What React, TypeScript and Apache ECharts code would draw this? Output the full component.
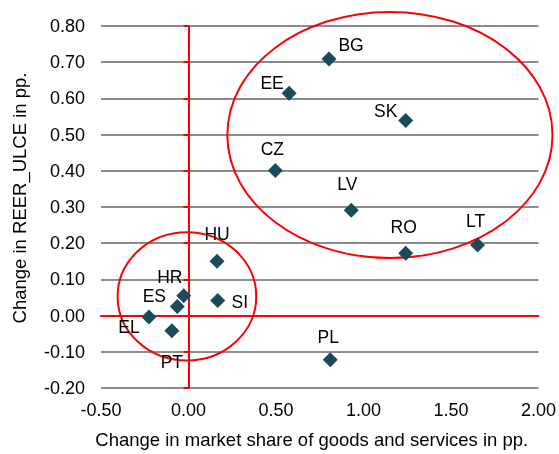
import React, { useEffect, useRef } from "react";
import * as echarts from "echarts";

const countries = ["BG", "EE", "SK", "CZ", "LV", "RO", "LT", "PL", "HU", "SI", "HR", "ES", "EL", "PT"];
const marketShare = [0.803, 0.575, 1.241, 0.496, 0.93, 1.241, 1.652, 0.81, 0.163, 0.167, -0.027, -0.064, -0.226, -0.095];
const reerUlce = [0.709, 0.614, 0.539, 0.401, 0.291, 0.172, 0.195, -0.122, 0.15, 0.042, 0.055, 0.025, -0.004, -0.042];

// Ellipses: [centreX, centreY, radiusX, radiusY] in data units
const ellipses = [
  [1.151, 0.499, 0.929, 0.34],
  [-0.009, 0.053, 0.396, 0.177],
];

const xTicks = { min: -0.5, max: 2.0, interval: 0.5 };
const yTicks = { min: -0.2, max: 0.8, interval: 0.1 };

// label offsets (pixels) relative to each marker
const labelOffsets: Record<string, [number, number]> = {
  BG: [22, -14],
  EE: [-17, -10],
  SK: [-20, -9],
  CZ: [-3, -21],
  LV: [-4, -26],
  RO: [-2, -26],
  LT: [-2, -24],
  PL: [-2, -23],
  HU: [0, -27],
  SI: [22, 2],
  HR: [-14, -19],
  ES: [-23, -11],
  EL: [-20, 10],
  PT: [0, 31],
};

const FONT = "'Liberation Sans', Arial, sans-serif";

export default function App() {
  const ref = useRef<HTMLDivElement>(null);
  useEffect(() => {
    document.body.style.margin = "0";
    document.body.style.overflow = "hidden";
    if (!ref.current) return;
    const chart = echarts.init(ref.current, null, { renderer: "svg" });
    const points = countries.map((c, i) => ({
      name: c,
      value: [marketShare[i], reerUlce[i]],
      label: {
        show: true,
        formatter: c,
        position: "inside",
        offset: labelOffsets[c],
        color: "#000",
        fontSize: 17.5,
        fontFamily: FONT,
      },
    }));
    chart.setOption({
      animation: false,
      textStyle: { fontFamily: FONT },
      grid: { left: 101, right: 20, top: 26, bottom: 63 },
      xAxis: [
        {
          type: "value",
          min: xTicks.min,
          max: xTicks.max,
          interval: xTicks.interval,
          position: "bottom",
          axisLine: { show: false, onZero: false },
          axisTick: { show: false },
          splitLine: { show: false },
          axisLabel: {
            formatter: (v: number) => v.toFixed(2),
            fontSize: 18,
            color: "#000",
            margin: 13,
            fontFamily: FONT,
          },
          name: "Change in market share of goods and services in pp.",
          nameLocation: "middle",
          nameGap: 42,
          nameTextStyle: { fontSize: 18.5, color: "#000", fontFamily: FONT, padding: [0, 16, 0, 0] },
        },
        {
          type: "value",
          min: xTicks.min,
          max: xTicks.max,
          interval: xTicks.interval,
          position: "bottom",
          axisLine: { show: true, onZero: true, lineStyle: { color: "#ff0000", width: 2 } },
          axisTick: { show: false },
          splitLine: { show: false },
          axisLabel: { show: false },
        },
      ],
      yAxis: [
        {
          type: "value",
          min: yTicks.min,
          max: yTicks.max,
          interval: yTicks.interval,
          position: "left",
          axisLine: { show: false, onZero: false },
          axisTick: { show: false },
          splitLine: { show: true, lineStyle: { color: "#8c8c8c", width: 2 } },
          axisLabel: {
            formatter: (v: number) => v.toFixed(2),
            fontSize: 18,
            color: "#000",
            margin: 16,
            fontFamily: FONT,
          },
          name: "Change in REER_ULCE in pp.",
          nameLocation: "middle",
          nameRotate: 90,
          nameGap: 72,
          nameTextStyle: { fontSize: 18.5, color: "#000", fontFamily: FONT, padding: [0, 0, 0, 18] },
        },
        {
          type: "value",
          min: yTicks.min,
          max: yTicks.max,
          interval: yTicks.interval,
          position: "left",
          axisLine: { show: true, onZero: true, lineStyle: { color: "#ff0000", width: 2 } },
          axisTick: { show: true, length: 5, lineStyle: { color: "#ff0000", width: 2 } },
          splitLine: { show: false },
          axisLabel: { show: false },
        },
      ],
      series: [
        {
          type: "custom",
          xAxisIndex: 0,
          yAxisIndex: 0,
          clip: false,
          silent: true,
          z: 1,
          data: ellipses,
          encode: { x: 0, y: 1 },
          renderItem: (params: any, api: any) => {
            const c = api.coord([api.value(0), api.value(1)]);
            const s = api.size([api.value(2), api.value(3)]);
            return {
              type: "ellipse",
              shape: { cx: c[0], cy: c[1], rx: s[0], ry: s[1] },
              style: { fill: "none", stroke: "#ff0000", lineWidth: 2 },
            };
          },
        },
        {
          type: "scatter",
          xAxisIndex: 0,
          yAxisIndex: 0,
          symbol: "diamond",
          symbolSize: 15,
          z: 3,
          itemStyle: { color: "#1b4a5a", opacity: 1 },
          data: points,
        },
      ],
    });
    return () => chart.dispose();
  }, []);
  return (
    <div
      ref={ref}
      style={{ position: "fixed", left: 0, top: 0, width: 559, height: 454 }}
    />
  );
}
